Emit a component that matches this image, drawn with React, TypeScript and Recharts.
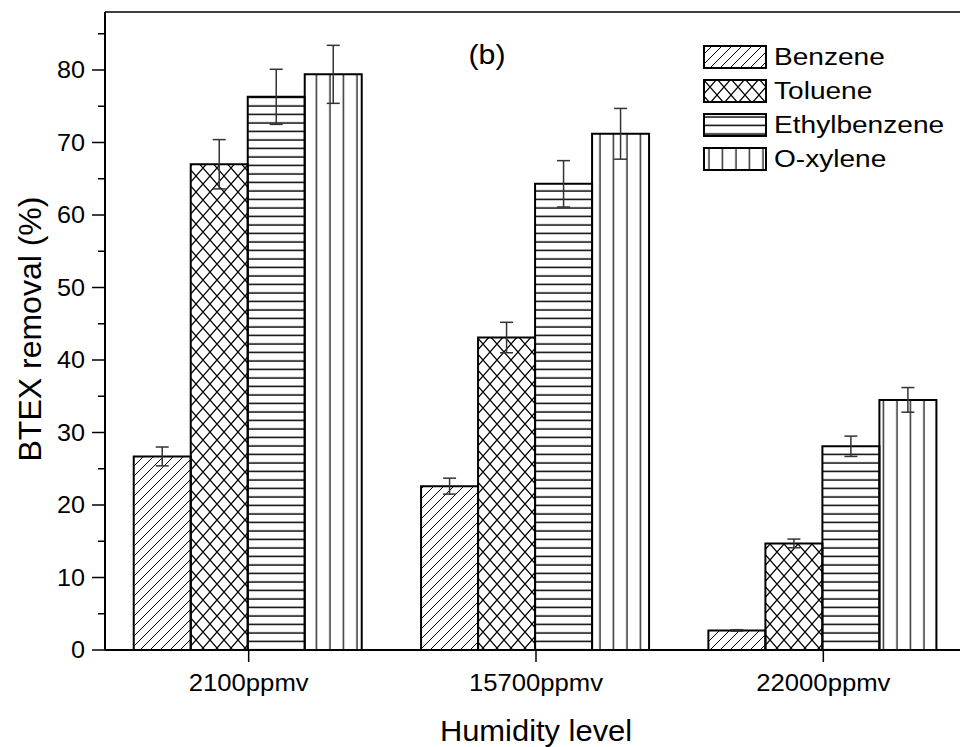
import React from 'react';
import { BarChart, Bar, XAxis, YAxis, ErrorBar, Legend, ReferenceLine, Label } from 'recharts';

const levels = ['2100ppmv', '15700ppmv', '22000ppmv'];
const benzene = [26.7, 22.6, 2.7];
const benzeneErr = [1.3, 1.1, 0.1];
const toluene = [67.0, 43.1, 14.7];
const tolueneErr = [3.4, 2.1, 0.6];
const ethylbenzene = [76.3, 64.3, 28.1];
const ethylbenzeneErr = [3.8, 3.2, 1.4];
const oxylene = [79.4, 71.2, 34.5];
const oxyleneErr = [4.0, 3.5, 1.7];

const yTicks = [0, 5, 10, 15, 20, 25, 30, 35, 40, 45, 50, 55, 60, 65, 70, 75, 80, 85];
const yMax = 88;
const minorXTicks = [0, 1, 2, 3];

const seriesNames = ['Benzene', 'Toluene', 'Ethylbenzene', 'O-xylene'];
const seriesKeys = ['benzene', 'toluene', 'ethylbenzene', 'oxylene'];
const patternIds = ['pat-benzene', 'pat-toluene', 'pat-ethyl', 'pat-oxylene'];

const data = levels.map((level, i) => ({
  level,
  benzene: benzene[i],
  benzeneErr: benzeneErr[i],
  toluene: toluene[i],
  tolueneErr: tolueneErr[i],
  ethylbenzene: ethylbenzene[i],
  ethylbenzeneErr: ethylbenzeneErr[i],
  oxylene: oxylene[i],
  oxyleneErr: oxyleneErr[i],
}));

const FONT = '"Liberation Sans", Arial, sans-serif';

const SText = (props: any) => {
  const { x, y, sx = 1, size, anchor = 'start', rotate = 0, children } = props;
  return (
    <text
      transform={`translate(${x}, ${y}) rotate(${rotate}) scale(${sx}, 1)`}
      x={0}
      y={0}
      textAnchor={anchor}
      dominantBaseline="central"
      fontSize={size}
      fontFamily={FONT}
      fill="#000"
    >
      {children}
    </text>
  );
};

const YTick = (props: any) => {
  const { x, y, payload } = props;
  const major = payload.value % 10 === 0;
  return (
    <g>
      <line x1={x - (major ? 13 : 7)} x2={x} y1={y} y2={y} stroke="#000" strokeWidth={1.5} />
      {major && (
        <SText x={x - 20} y={y} sx={1.05} size={24} anchor="end">
          {payload.value}
        </SText>
      )}
    </g>
  );
};

const CatTick = (props: any) => {
  const { x, y, payload } = props;
  return (
    <g>
      <line x1={x} x2={x} y1={y} y2={y + 12} stroke="#000" strokeWidth={1.5} />
      <SText x={x} y={y + 33} sx={1.07} size={24} anchor="middle">
        {payload.value}
      </SText>
    </g>
  );
};

const MinorTick = (props: any) => {
  const { x, y } = props;
  return <line x1={x} x2={x} y1={y} y2={y + 7} stroke="#000" strokeWidth={1.5} />;
};

const YTitle = (props: any) => {
  const { viewBox } = props;
  const cx = viewBox.x + 30;
  const cy = viewBox.y + viewBox.height / 2 - 2;
  return (
    <SText x={cx} y={cy} size={32} anchor="middle" rotate={-90}>
      BTEX removal (%)
    </SText>
  );
};

const XTitle = (props: any) => {
  const { viewBox } = props;
  const cx = viewBox.x + viewBox.width / 2;
  const cy = viewBox.y + 80;
  return (
    <SText x={cx} y={cy} sx={1.03} size={30} anchor="middle">
      Humidity level
    </SText>
  );
};

const renderLegend = () => (
  <svg width={250} height={140} style={{ overflow: 'visible', display: 'block' }}>
    {seriesNames.map((name, i) => (
      <g key={name} transform={`translate(0, ${i * 34})`}>
        <rect x={1} y={1} width={62} height={22} fill={`url(#${patternIds[i]})`} stroke="#000" strokeWidth={2} />
        <SText x={71} y={12} sx={1.17} size={24}>
          {name}
        </SText>
      </g>
    ))}
  </svg>
);

export default function App() {
  return (
    <div style={{ position: 'absolute', left: 0, top: 0, width: 960, height: 747, overflow: 'hidden', background: '#fff' }}>
      <BarChart
        width={1000}
        height={747}
        data={data}
        margin={{ top: 12, right: 33, bottom: 0, left: 0 }}
        barCategoryGap="10%"
        barGap={0}
      >
        <defs>
          <pattern id="pat-benzene" patternUnits="userSpaceOnUse" width={10} height={10}>
            <path d="M-2.5,2.5 L2.5,-2.5 M0,10 L10,0 M7.5,12.5 L12.5,7.5" stroke="#000" strokeWidth={1} />
          </pattern>
          <pattern id="pat-toluene" patternUnits="userSpaceOnUse" width={14} height={16}>
            <path d="M0,0 L14,16 M14,0 L0,16" stroke="#000" strokeWidth={1.2} />
          </pattern>
          <pattern id="pat-ethyl" patternUnits="userSpaceOnUse" width={10} height={8.5}>
            <line x1={0} x2={10} y1={4} y2={4} stroke="#000" strokeWidth={1.5} />
          </pattern>
          <pattern id="pat-oxylene" patternUnits="userSpaceOnUse" width={13.5} height={10}>
            <line x1={6} x2={6} y1={0} y2={10} stroke="#333" strokeWidth={1.5} />
          </pattern>
        </defs>
        <XAxis
          xAxisId={0}
          type="number"
          domain={[0, 3]}
          ticks={minorXTicks}
          allowDataOverflow
          height={0}
          axisLine={false}
          tickLine={false}
          tickSize={0}
          tickMargin={0}
          tick={<MinorTick />}
          interval={0}
        />
        <XAxis
          xAxisId={1}
          dataKey="level"
          type="category"
          height={97}
          tickSize={0}
          tickMargin={0}
          tickLine={false}
          axisLine={{ stroke: '#000', strokeWidth: 2 }}
          tick={<CatTick />}
          interval={0}
          label={<Label content={XTitle} />}
        />
        <YAxis
          type="number"
          domain={[0, yMax]}
          ticks={yTicks}
          allowDataOverflow
          width={105}
          tickSize={0}
          tickMargin={0}
          tickLine={false}
          axisLine={{ stroke: '#000', strokeWidth: 2 }}
          tick={<YTick />}
          interval={0}
          label={<Label content={YTitle} />}
        />
        <ReferenceLine xAxisId={1} y={yMax} stroke="#000" strokeWidth={1.5} />
        {seriesKeys.map((key, i) => (
          <Bar
            key={key}
            xAxisId={1}
            dataKey={key}
            name={seriesNames[i]}
            fill={`url(#${patternIds[i]})`}
            stroke="#000"
            strokeWidth={2}
            isAnimationActive={false}
          >
            <ErrorBar dataKey={`${key}Err`} width={6.5} stroke="#333" strokeWidth={1.5} direction="y" isAnimationActive={false} />
          </Bar>
        ))}
        <SText x={487} y={54} sx={1.08} size={28} anchor="middle">
          (b)
        </SText>
        <Legend
          layout="vertical"
          align="center"
          verticalAlign="middle"
          content={renderLegend}
          wrapperStyle={{ left: 703, top: 45, width: 250, height: 140 }}
        />
      </BarChart>
    </div>
  );
}
